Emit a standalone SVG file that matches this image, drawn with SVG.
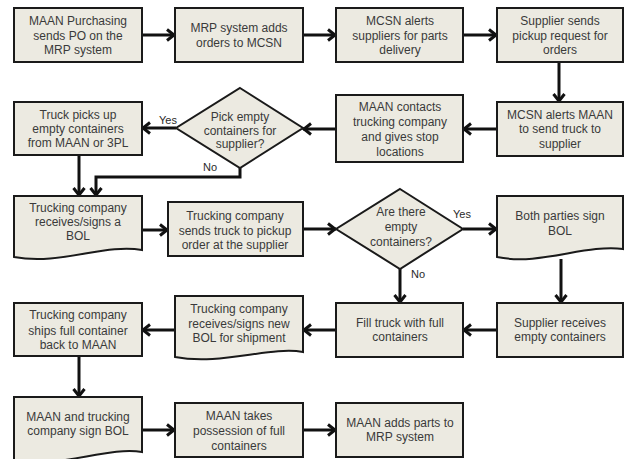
<svg xmlns="http://www.w3.org/2000/svg" width="625" height="459" viewBox="0 0 625 459">
<defs>
<style>
.n{fill:#ECEAE1;stroke:#1a1a1a;stroke-width:2}
.t{font-family:"Liberation Sans",Arial,sans-serif;font-size:12px;fill:#3a3a3a;text-anchor:middle}
.l{font-family:"Liberation Sans",Arial,sans-serif;font-size:11px;fill:#2a2a2a;text-anchor:middle}
.c{fill:none;stroke:#111;stroke-width:3}
</style>
<marker id="a" markerUnits="userSpaceOnUse" markerWidth="14" markerHeight="14" refX="11" refY="7" orient="auto">
<path d="M3,1.5 L10,7 L3,12.5" fill="none" stroke="#111" stroke-width="3"/>
</marker>
</defs>
<rect width="625" height="459" fill="#fff"/>
<g id="connectors">
<path class="c" d="M142,35 H175" marker-end="url(#a)"/>
<path class="c" d="M303,35 H336" marker-end="url(#a)"/>
<path class="c" d="M463,35 H497" marker-end="url(#a)"/>
<path class="c" d="M559,62 V102" marker-end="url(#a)"/>
<path class="c" d="M497,129 H463" marker-end="url(#a)"/>
<path class="c" d="M336,129 H303" marker-end="url(#a)"/>
<path class="c" d="M176,128 H142" marker-end="url(#a)"/>
<path class="c" d="M79,155 V196" marker-end="url(#a)"/>
<path class="c" d="M240,168 V177 H96 V196" marker-end="url(#a)"/>
<path class="c" d="M142,230 H168" marker-end="url(#a)"/>
<path class="c" d="M303,229 H336" marker-end="url(#a)"/>
<path class="c" d="M463,229 H497" marker-end="url(#a)"/>
<path class="c" d="M400,269 V303" marker-end="url(#a)"/>
<path class="c" d="M561,259 V303" marker-end="url(#a)"/>
<path class="c" d="M497,330 H463" marker-end="url(#a)"/>
<path class="c" d="M336,330 H303" marker-end="url(#a)"/>
<path class="c" d="M175,330 H142" marker-end="url(#a)"/>
<path class="c" d="M79,356 V397" marker-end="url(#a)"/>
<path class="c" d="M142,430 H175" marker-end="url(#a)"/>
<path class="c" d="M303,430 H336" marker-end="url(#a)"/>
<text class="l" x="168" y="124">Yes</text>
<text class="l" x="210" y="171">No</text>
<text class="l" x="462" y="218">Yes</text>
<text class="l" x="418" y="278">No</text>
</g>
<g id="n1"><rect class="n" x="14" y="8" width="128" height="54"/>
<text class="t" x="78" y="25">MAAN Purchasing</text><text class="t" x="78" y="40">sends PO on the</text><text class="t" x="78" y="54">MRP system</text></g>
<g id="n2"><rect class="n" x="175" y="8" width="128" height="54"/>
<text class="t" x="239" y="32">MRP system adds</text><text class="t" x="239" y="47">orders to MCSN</text></g>
<g id="n3"><rect class="n" x="336" y="8" width="127" height="54"/>
<text class="t" x="400" y="25">MCSN alerts</text><text class="t" x="400" y="40">suppliers for parts</text><text class="t" x="400" y="54">delivery</text></g>
<g id="n4"><rect class="n" x="497" y="8" width="126" height="54"/>
<text class="t" x="560" y="25">Supplier sends</text><text class="t" x="560" y="40">pickup request for</text><text class="t" x="560" y="54">orders</text></g>
<g id="n5"><rect class="n" x="497" y="102" width="126" height="54"/>
<text class="t" x="560" y="119">MCSN alerts MAAN</text><text class="t" x="560" y="133">to send truck to</text><text class="t" x="560" y="148">supplier</text></g>
<g id="n6"><rect class="n" x="336" y="95" width="127" height="67"/>
<text class="t" x="400" y="111">MAAN contacts</text><text class="t" x="400" y="126">trucking company</text><text class="t" x="400" y="141">and gives stop</text><text class="t" x="400" y="156">locations</text></g>
<g id="n7"><polygon class="n" points="240,88 303,128 240,168 176,128"/>
<text class="t" x="240" y="121">Pick empty</text><text class="t" x="240" y="135">containers for</text><text class="t" x="240" y="148">supplier?</text></g>
<g id="n8"><rect class="n" x="14" y="102" width="128" height="53"/>
<text class="t" x="78" y="119">Truck picks up</text><text class="t" x="78" y="133">empty containers</text><text class="t" x="78" y="147">from MAAN or 3PL</text></g>
<g id="n9"><path class="n" d="M14,196 H142 V250 C105,243 60,266 14,257 Z"/>
<text class="t" x="78" y="212">Trucking company</text><text class="t" x="78" y="226">receives/signs a</text><text class="t" x="78" y="240">BOL</text></g>
<g id="n10"><rect class="n" x="168" y="202" width="135" height="54"/>
<text class="t" x="235" y="220">Trucking company</text><text class="t" x="235" y="235">sends truck to pickup</text><text class="t" x="235" y="249">order at the  supplier</text></g>
<g id="n11"><polygon class="n" points="400,189 463,229 400,269 336,229"/>
<text class="t" x="401" y="216">Are there</text><text class="t" x="401" y="231">empty</text><text class="t" x="401" y="246">containers?</text></g>
<g id="n12"><path class="n" d="M497,196 H623 V249 C585,244 540,266 497,257 Z"/>
<text class="t" x="560" y="220">Both parties sign</text><text class="t" x="560" y="235">BOL</text></g>
<g id="n13"><rect class="n" x="497" y="303" width="126" height="54"/>
<text class="t" x="560" y="327">Supplier receives</text><text class="t" x="560" y="341">empty containers</text></g>
<g id="n14"><rect class="n" x="336" y="303" width="127" height="54"/>
<text class="t" x="400" y="327">Fill truck with full</text><text class="t" x="400" y="341">containers</text></g>
<g id="n15"><path class="n" d="M175,296 H303 V352 C270,346 220,366 175,357 Z"/>
<text class="t" x="239" y="313">Trucking company</text><text class="t" x="239" y="328">receives/signs new</text><text class="t" x="239" y="342">BOL for shipment</text></g>
<g id="n16"><rect class="n" x="14" y="303" width="128" height="53"/>
<text class="t" x="78" y="319">Trucking company</text><text class="t" x="78" y="335">ships full container</text><text class="t" x="78" y="349">back to MAAN</text></g>
<g id="n17"><path class="n" d="M14,397 H142 V452 C110,446 60,468 14,462 Z"/>
<text class="t" x="78" y="421">MAAN and trucking</text><text class="t" x="78" y="435">company sign BOL</text></g>
<g id="n18"><rect class="n" x="175" y="403" width="128" height="54"/>
<text class="t" x="239" y="420">MAAN takes</text><text class="t" x="239" y="435">possession of full</text><text class="t" x="239" y="450">containers</text></g>
<g id="n19"><rect class="n" x="336" y="403" width="127" height="54"/>
<text class="t" x="400" y="427">MAAN adds parts to</text><text class="t" x="400" y="441">MRP system</text></g>
</svg>
